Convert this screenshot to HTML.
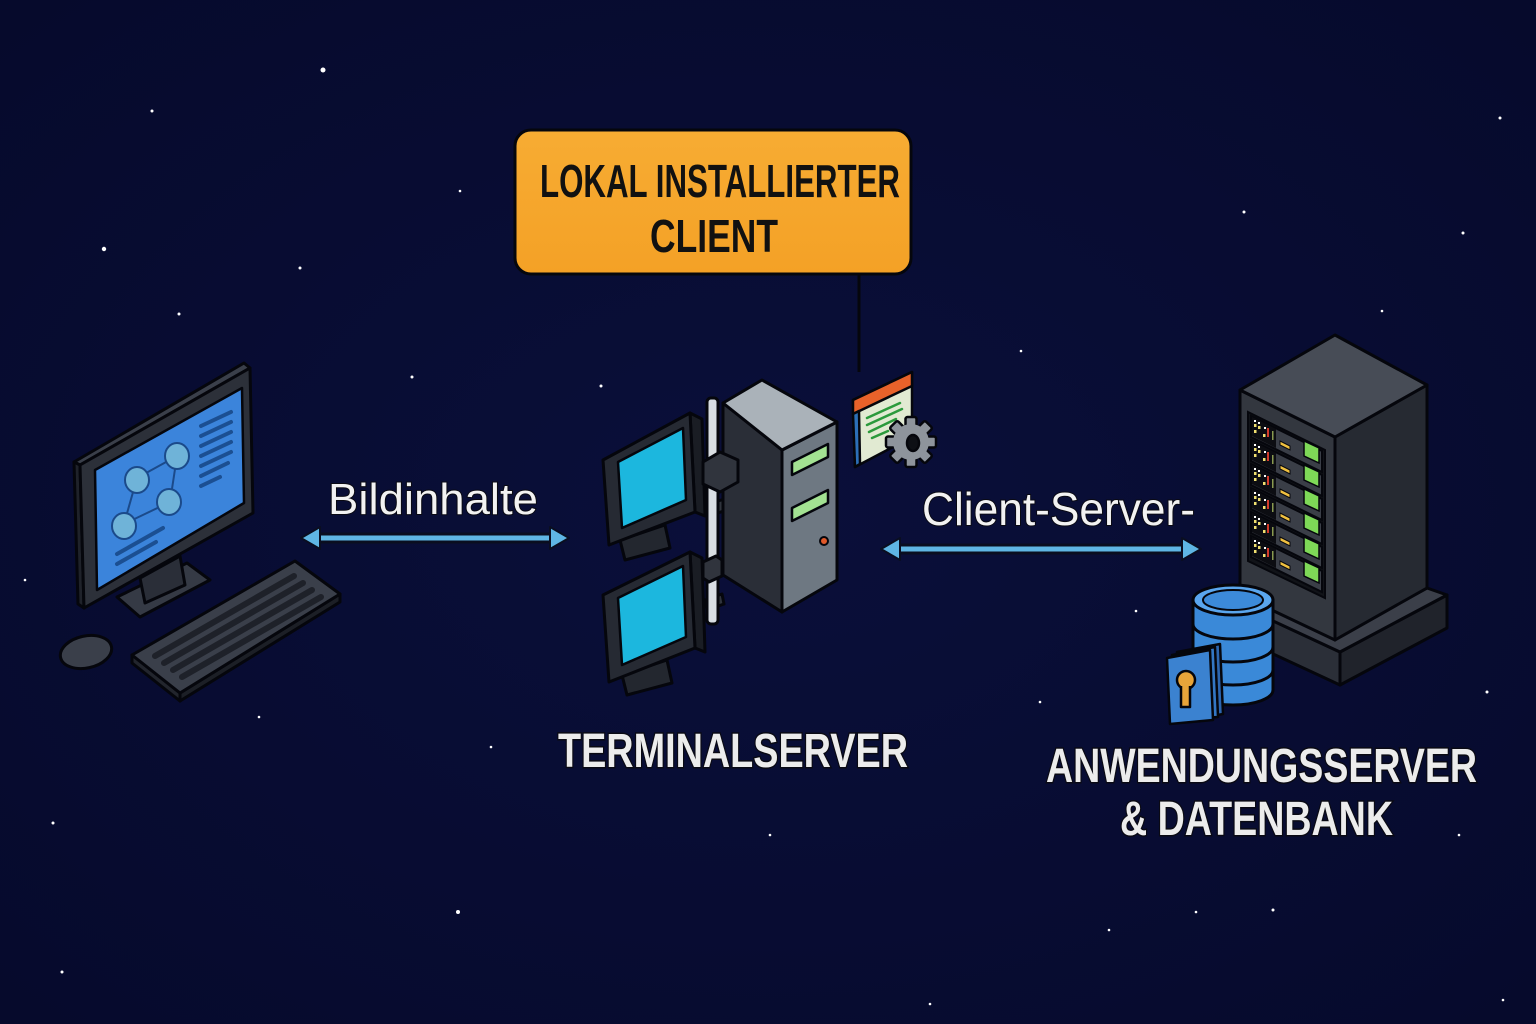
<!DOCTYPE html>
<html><head><meta charset="utf-8"><style>
html,body{margin:0;padding:0;background:#070b30;}
svg{display:block}
text{font-family:"Liberation Sans",sans-serif;}
</style></head><body>
<svg width="1536" height="1024" viewBox="0 0 1536 1024" xmlns="http://www.w3.org/2000/svg">
<defs>
<radialGradient id="bg" cx="50%" cy="50%" r="70%">
<stop offset="0" stop-color="#0a0f3a"/><stop offset="1" stop-color="#060a2c"/>
</radialGradient>
<linearGradient id="org" x1="0" y1="0" x2="0" y2="1">
<stop offset="0" stop-color="#f7ac33"/><stop offset="1" stop-color="#f4a126"/>
</linearGradient>
</defs>
<rect width="1536" height="1024" fill="url(#bg)"/>
<!-- stars -->
<g fill="#ffffff">
<circle cx="323" cy="70" r="2.5"/><circle cx="152" cy="111" r="1.5"/><circle cx="104" cy="249" r="2.2"/>
<circle cx="300" cy="268" r="1.5"/><circle cx="179" cy="314" r="1.5"/><circle cx="460" cy="191" r="1.3"/>
<circle cx="1244" cy="212" r="1.5"/><circle cx="1463" cy="233" r="1.5"/><circle cx="1500" cy="118" r="1.5"/>
<circle cx="1382" cy="311" r="1.3"/><circle cx="1416" cy="397" r="1.3"/><circle cx="1487" cy="692" r="1.5"/>
<circle cx="1459" cy="835" r="1.3"/><circle cx="1273" cy="910" r="1.5"/><circle cx="458" cy="912" r="2"/>
<circle cx="62" cy="972" r="1.5"/><circle cx="53" cy="823" r="1.5"/><circle cx="259" cy="717" r="1.3"/>
<circle cx="491" cy="747" r="1.3"/><circle cx="770" cy="835" r="1.3"/><circle cx="1040" cy="702" r="1.3"/>
<circle cx="1136" cy="611" r="1.3"/><circle cx="412" cy="377" r="1.5"/><circle cx="601" cy="386" r="1.5"/>
<circle cx="1021" cy="351" r="1.3"/><circle cx="1196" cy="912" r="1.3"/><circle cx="1109" cy="930" r="1.3"/>
<circle cx="930" cy="1004" r="1.3"/><circle cx="1503" cy="1000" r="1.3"/><circle cx="25" cy="580" r="1.3"/>
</g>

<!-- ===== LEFT COMPUTER ===== -->
<g stroke="#05060c" stroke-width="3" stroke-linejoin="round">
<polygon points="117,597 187,563 210,580 140,617" fill="#353a45"/>
<polygon points="140,578 180,556 185,585 145,603" fill="#2a2e38"/>
<polygon points="74,462 244,363 250,368 80,465" fill="#3a3f4a"/>
<polygon points="74,462 80,465 84,608 78,604" fill="#1f222a"/>
<polygon points="80,465 250,368 253,513 84,608" fill="#2c3039"/>
<polygon points="95,470 242,388 244,503 97,590" fill="#3b84db" stroke-width="2.5"/>
</g>
<g stroke="#1b4a8a" stroke-width="2" fill="none">
<line x1="137" y1="478" x2="177" y2="456"/><line x1="177" y1="456" x2="170" y2="502"/>
<line x1="137" y1="478" x2="124" y2="524"/><line x1="124" y1="524" x2="170" y2="502"/>
</g>
<g fill="#6fb3d8" stroke="#1b4a8a" stroke-width="2">
<ellipse cx="137" cy="480" rx="12" ry="13"/><ellipse cx="177" cy="456" rx="12" ry="13"/>
<ellipse cx="169" cy="502" rx="12" ry="13"/><ellipse cx="124" cy="526" rx="12" ry="13"/>
</g>
<g stroke="#1b4f92" stroke-width="4" stroke-linecap="round">
<line x1="201" y1="426" x2="231" y2="412"/><line x1="201" y1="436" x2="231" y2="422"/>
<line x1="201" y1="446" x2="231" y2="432"/><line x1="201" y1="456" x2="231" y2="442"/>
<line x1="201" y1="466" x2="231" y2="452"/><line x1="201" y1="476" x2="228" y2="463"/>
<line x1="201" y1="486" x2="220" y2="477"/>
<line x1="117" y1="554" x2="163" y2="528"/><line x1="117" y1="564" x2="156" y2="542"/>
</g>
<!-- keyboard -->
<g stroke="#05060c" stroke-width="3" stroke-linejoin="round">
<polygon points="132,655 180,693 180,701 132,663" fill="#22252d"/>
<polygon points="180,693 340,594 340,602 180,701" fill="#1c1f26"/>
<polygon points="132,655 295,561 340,594 180,693" fill="#3a3f4a"/>
</g>
<g stroke="#1e2129" stroke-width="6" stroke-linecap="round">
<line x1="155" y1="656" x2="294" y2="576"/>
<line x1="164" y1="663" x2="303" y2="583"/>
<line x1="173" y1="670" x2="312" y2="590"/>
<line x1="182" y1="677" x2="321" y2="597"/>
</g>
<ellipse cx="86" cy="652" rx="26" ry="16" transform="rotate(-12 86 652)" fill="#3a3f4a" stroke="#05060c" stroke-width="3"/>

<!-- ===== ARROWS ===== -->
<g stroke="#0a0e20" stroke-width="11" stroke-linecap="round">
<line x1="318" y1="538" x2="552" y2="538"/>
<line x1="898" y1="549" x2="1184" y2="549"/>
</g>
<g stroke="#5fb6e4" stroke-width="5">
<line x1="315" y1="538" x2="555" y2="538"/>
<line x1="895" y1="549" x2="1187" y2="549"/>
</g>
<g fill="#5fb6e4" stroke="#0a0e20" stroke-width="2" stroke-linejoin="round">
<polygon points="301,538 320,527 320,549"/><polygon points="569,538 550,527 550,549"/>
<polygon points="881,549 900,538 900,560"/><polygon points="1201,549 1182,538 1182,560"/>
</g>
<text x="328" y="514" font-size="44" fill="#f2f2f2" stroke="#0a0a14" stroke-width="2" paint-order="stroke" textLength="210" lengthAdjust="spacingAndGlyphs">Bildinhalte</text>
<text x="922" y="525" font-size="46" fill="#f2f2f2" stroke="#0a0a14" stroke-width="2" paint-order="stroke" textLength="273" lengthAdjust="spacingAndGlyphs">Client-Server-</text>

<!-- ===== ORANGE LABEL ===== -->
<line x1="859" y1="272" x2="859" y2="372" stroke="#05060c" stroke-width="3"/>
<rect x="515" y="130" width="396" height="144" rx="16" fill="url(#org)" stroke="#05060c" stroke-width="3"/>
<text x="540" y="197" font-size="46" font-weight="bold" fill="#111" textLength="360" lengthAdjust="spacingAndGlyphs">LOKAL INSTALLIERTER</text>
<text x="650" y="252" font-size="46" font-weight="bold" fill="#111" textLength="128" lengthAdjust="spacingAndGlyphs">CLIENT</text>

<!-- ===== TERMINAL SERVER ===== -->
<g stroke="#05060c" stroke-width="3" stroke-linejoin="round">
<polygon points="620,540 665,525 670,548 625,560" fill="#23272f"/>
<polygon points="690,413 702,419 705,516 695,512" fill="#1a1d24"/>
<polygon points="603,460 690,413 695,512 609,545" fill="#262a33"/>
<polygon points="618,462 683,428 686,500 622,528" fill="#1cb7de" stroke-width="2.5"/>
<polygon points="622,675 667,660 672,683 627,695" fill="#23272f"/>
<polygon points="690,552 702,558 705,652 695,648" fill="#1a1d24"/>
<polygon points="603,595 690,552 695,648 609,682" fill="#262a33"/>
<polygon points="618,598 683,566 686,637 622,665" fill="#1cb7de" stroke-width="2.5"/>
<polygon points="712,503 752,490 755,500 715,514" fill="#30343d"/>
<polygon points="705,600 722,594 724,604 707,610" fill="#30343d"/>
<polygon points="723,403 782,450 782,612 723,575" fill="#2a2e37"/>
<polygon points="782,450 837,422 837,580 782,612" fill="#6e7882"/>
<polygon points="723,403 762,380 837,422 782,450" fill="#aab2b9"/>
<rect x="707" y="398" width="11" height="226" rx="4" fill="#d9dee3"/>
<polygon points="703,462 720,452 738,460 738,482 720,492 703,484" fill="#30343d"/>
<polygon points="703,562 716,556 722,560 722,576 709,582 703,578" fill="#30343d"/>
<polygon points="792,462 828,444 828,457 792,475" fill="#a3e292" stroke-width="2.5"/>
<polygon points="792,508 828,490 828,503 792,521" fill="#a3e292" stroke-width="2.5"/>
</g>
<circle cx="824" cy="541" r="4" fill="#e0592a" stroke="#05060c" stroke-width="2"/>

<!-- app window icon -->
<g stroke="#05060c" stroke-width="2.5" stroke-linejoin="round">
<polygon points="853,400 912,372 912,437 855,467" fill="#e1ead2"/>
<polygon points="853,400 912,372 912,386 853,414" fill="#e8622a"/>
<polygon points="853,414 859,411 860,464 855,467" fill="#2c6fb8"/>
</g>
<g stroke="#2b9a3c" stroke-width="2.5" stroke-linecap="round">
<line x1="867" y1="418" x2="900" y2="403"/><line x1="867" y1="425" x2="902" y2="409"/>
<line x1="869" y1="432" x2="896" y2="419"/><line x1="872" y1="438" x2="888" y2="431"/>
</g>
<g transform="translate(911,442)" stroke="#05060c" stroke-width="2.5">
<g fill="#8e949c">
<rect x="-5.5" y="-25" width="11" height="50" rx="2"/>
<rect x="-5.5" y="-25" width="11" height="50" rx="2" transform="rotate(45)"/>
<rect x="-5.5" y="-25" width="11" height="50" rx="2" transform="rotate(90)"/>
<rect x="-5.5" y="-25" width="11" height="50" rx="2" transform="rotate(135)"/>
</g>
<circle r="18" fill="#8e949c" stroke="none"/>
<ellipse cx="2" cy="1" rx="6" ry="8" fill="#0d0f15"/>
</g>

<text x="558" y="767" font-size="48" font-weight="bold" fill="#ececec" stroke="#0a0a14" stroke-width="3" paint-order="stroke" textLength="350" lengthAdjust="spacingAndGlyphs">TERMINALSERVER</text>

<!-- ===== RIGHT SERVER ===== -->
<g stroke="#05060c" stroke-width="3" stroke-linejoin="round">
<polygon points="1228,600 1340,652 1340,685 1228,633" fill="#2b2f38"/>
<polygon points="1340,652 1447,595 1447,628 1340,685" fill="#20232b"/>
<polygon points="1228,600 1240,593 1335,638 1427,588 1447,595 1340,652" fill="#3b3f49"/>
<polygon points="1240,390 1335,437 1335,640 1240,595" fill="#33373f"/>
<polygon points="1335,437 1427,385 1427,588 1335,640" fill="#262a32"/>
<polygon points="1240,390 1335,335 1427,385 1335,437" fill="#474c56"/>
</g>
<!-- rack units -->
<polygon points="1248,412 1325,450 1325,598 1248,561" fill="#111318" stroke="#05060c" stroke-width="2"/>
<g>
<g id="slot">
<polygon points="1251,416 1322,451 1322,472 1251,437" fill="#3a3e47" stroke="#05060c" stroke-width="2"/>
<polygon points="1252,417 1276,429 1276,448 1252,436" fill="#0c0d12"/>
<g fill="#f0e070"><rect x="1254" y="424" width="2.5" height="3"/><rect x="1258" y="426" width="2.5" height="3"/><rect x="1254" y="430" width="2.5" height="3"/><rect x="1263" y="434" width="2.5" height="3"/></g>
<g fill="#ffffff"><rect x="1254" y="420" width="2" height="2"/><rect x="1258" y="422" width="2" height="2"/><rect x="1264" y="427" width="2" height="2"/></g>
<rect x="1267" y="428" width="2" height="9" fill="#d23a2a"/>
<rect x="1272" y="431" width="1.5" height="9" fill="#8a9a50"/>
<polygon points="1280,441 1290,446 1290,450 1280,445" fill="#f0c040" stroke="#05060c" stroke-width="1"/>
<polygon points="1304,441 1319,448 1319,463 1304,456" fill="#7ed957" stroke="#05060c" stroke-width="1.5"/>
</g>
<use href="#slot" y="24"/><use href="#slot" y="48"/><use href="#slot" y="72"/><use href="#slot" y="96"/><use href="#slot" y="120"/>
</g>
<!-- database -->
<g stroke="#05060c" stroke-width="3" stroke-linejoin="round">
<path d="M1193,600 L1193,690 A40,15 0 0 0 1273,690 L1273,600 Z" fill="#3a89d8"/>
<path d="M1193,624 A40,15 0 0 0 1273,624 M1193,647 A40,15 0 0 0 1273,647 M1193,670 A40,15 0 0 0 1273,670" fill="none"/>
<ellipse cx="1233" cy="600" rx="40" ry="15" fill="#5aa6ee"/>
<ellipse cx="1233" cy="600" rx="30" ry="10" fill="#3c8ad9" stroke-width="2"/>
</g>
<!-- lock card -->
<g stroke="#05060c" stroke-width="2.5" stroke-linejoin="round">
<polygon points="1177,652 1220,644 1223,714 1180,722" fill="#2c66b0"/>
<polygon points="1172,655 1215,647 1218,717 1175,720" fill="#3377c4"/>
<polygon points="1167,658 1210,650 1213,720 1170,724" fill="#3b82d0"/>
<circle cx="1186" cy="680" r="9" fill="#e8a53a"/>
<path d="M1181,686 L1181,707 L1190,707 L1190,686" fill="#e8a53a"/>
</g>

<text x="1046" y="782" font-size="48" font-weight="bold" fill="#ececec" stroke="#0a0a14" stroke-width="3" paint-order="stroke" textLength="431" lengthAdjust="spacingAndGlyphs">ANWENDUNGSSERVER</text>
<text x="1120" y="835" font-size="48" font-weight="bold" fill="#ececec" stroke="#0a0a14" stroke-width="3" paint-order="stroke" textLength="273" lengthAdjust="spacingAndGlyphs">&amp; DATENBANK</text>
</svg>
</body></html>
